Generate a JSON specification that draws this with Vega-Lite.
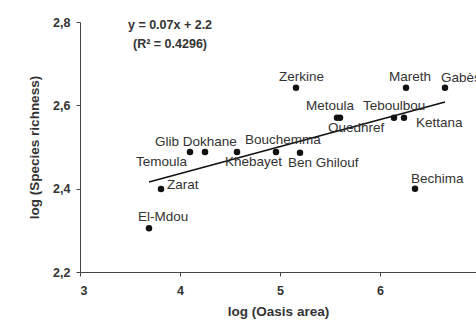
{
  "$schema": "https://vega.github.io/schema/vega-lite/v6.json",
  "autosize": {"type": "none"},
  "width": 396,
  "height": 250,
  "padding": {"left": 80, "top": 22, "right": 0, "bottom": 48},
  "background": "white",
  "config": {
    "view": {"stroke": null},
    "font": "Liberation Sans",
    "axis": {
      "grid": false,
      "domainColor": "#444",
      "tickColor": "#444",
      "tickSize": 4,
      "labelFont": "Liberation Sans",
      "labelFontWeight": "bold",
      "labelFontSize": 12.5,
      "labelColor": "#333",
      "titleFont": "Liberation Sans",
      "titleFontWeight": "bold",
      "titleFontSize": 13.5,
      "titleColor": "#333"
    },
    "text": {"font": "Liberation Sans", "fontSize": 13.5, "color": "#333", "baseline": "middle", "align": "left"}
  },
  "datasets": {
    "oases": [
      {"name": "El-Mdou", "area": 3.69, "richness": 2.305},
      {"name": "Zarat", "area": 3.81, "richness": 2.399},
      {"name": "Temoula", "area": 4.10, "richness": 2.488},
      {"name": "Glib Dokhane", "area": 4.25, "richness": 2.488},
      {"name": "Khebayet", "area": 4.57, "richness": 2.488},
      {"name": "Bouchemma", "area": 4.96, "richness": 2.488},
      {"name": "Ben Ghilouf", "area": 5.20, "richness": 2.486},
      {"name": "Zerkine", "area": 5.16, "richness": 2.642},
      {"name": "Metoula", "area": 5.57, "richness": 2.570},
      {"name": "Ouedhref", "area": 5.60, "richness": 2.570},
      {"name": "Teboulbou", "area": 6.14, "richness": 2.570},
      {"name": "Kettana", "area": 6.24, "richness": 2.570},
      {"name": "Mareth", "area": 6.26, "richness": 2.642},
      {"name": "Gabès", "area": 6.65, "richness": 2.642},
      {"name": "Bechima", "area": 6.35, "richness": 2.400}
    ],
    "fit": [
      {"area": 3.69, "richness": 2.416},
      {"area": 6.65, "richness": 2.608}
    ]
  },
  "layer": [
    {"data": {"name": "fit"}, "mark": {"type": "line", "color": "#111", "strokeWidth": 1.6},
      "encoding": {
        "x": {"field": "area", "type": "quantitative", "scale": {"domain": [3, 6.96], "nice": false, "zero": false},
          "axis": {"title": "log (Oasis area)", "values": [3, 4, 5, 6], "format": "d", "labelPadding": 8, "titlePadding": 8}},
        "y": {"field": "richness", "type": "quantitative", "scale": {"domain": [2.2, 2.8], "nice": false, "zero": false},
          "axis": {"title": "log (Species richness)", "values": [2.2, 2.4, 2.6, 2.8], "labelExpr": "replace(format(datum.value, '.1f'), '.', ',')", "labelPadding": 6, "titlePadding": 11}}
      }},
    {"data": {"values": [{"line": "y = 0.07x + 2.2"}]},
      "mark": {"type": "text", "align": "center", "fontSize": 12.5, "fontWeight": "bold"},
      "encoding": {"x": {"datum": 3.9, "type": "quantitative"}, "y": {"datum": 2.793, "type": "quantitative"}, "text": {"field": "line", "type": "nominal"}}},
    {"data": {"values": [{"line": "(R² = 0.4296)"}]},
      "mark": {"type": "text", "align": "center", "fontSize": 12.5, "fontWeight": "bold"},
      "encoding": {"x": {"datum": 3.9, "type": "quantitative"}, "y": {"datum": 2.747, "type": "quantitative"}, "text": {"field": "line", "type": "nominal"}}},
    {"data": {"name": "oases"},
      "encoding": {"x": {"field": "area", "type": "quantitative"}, "y": {"field": "richness", "type": "quantitative"}},
      "layer": [
        {"mark": {"type": "point", "filled": true, "color": "#111", "size": 42, "opacity": 1}},
        {"transform": [{"filter": {"field": "name", "oneOf": ["Zerkine", "Mareth"]}}],
          "mark": {"type": "text", "dx": -17, "dy": -11}, "encoding": {"text": {"field": "name"}}},
        {"transform": [{"filter": {"field": "name", "oneOf": ["El-Mdou"]}}],
          "mark": {"type": "text", "dx": -11, "dy": -11}, "encoding": {"text": {"field": "name"}}},
        {"transform": [{"filter": {"field": "name", "oneOf": ["Gabès", "Bechima"]}}],
          "mark": {"type": "text", "dx": -4, "dy": -10}, "encoding": {"text": {"field": "name"}}},
        {"transform": [{"filter": {"field": "name", "oneOf": ["Bouchemma", "Teboulbou", "Metoula"]}}],
          "mark": {"type": "text", "dx": -31, "dy": -12}, "encoding": {"text": {"field": "name"}}},
        {"transform": [{"filter": {"field": "name", "oneOf": ["Glib Dokhane"]}}],
          "mark": {"type": "text", "dx": -50, "dy": -10}, "encoding": {"text": {"field": "name"}}},
        {"transform": [{"filter": {"field": "name", "oneOf": ["Khebayet", "Ben Ghilouf", "Ouedhref"]}}],
          "mark": {"type": "text", "dx": -12, "dy": 10}, "encoding": {"text": {"field": "name"}}},
        {"transform": [{"filter": {"field": "name", "oneOf": ["Temoula"]}}],
          "mark": {"type": "text", "align": "right", "dx": -3, "dy": 10}, "encoding": {"text": {"field": "name"}}},
        {"transform": [{"filter": {"field": "name", "oneOf": ["Zarat"]}}],
          "mark": {"type": "text", "dx": 6, "dy": -4}, "encoding": {"text": {"field": "name"}}},
        {"transform": [{"filter": {"field": "name", "oneOf": ["Kettana"]}}],
          "mark": {"type": "text", "dx": 12, "dy": 5}, "encoding": {"text": {"field": "name"}}}
      ]}
  ]
}
